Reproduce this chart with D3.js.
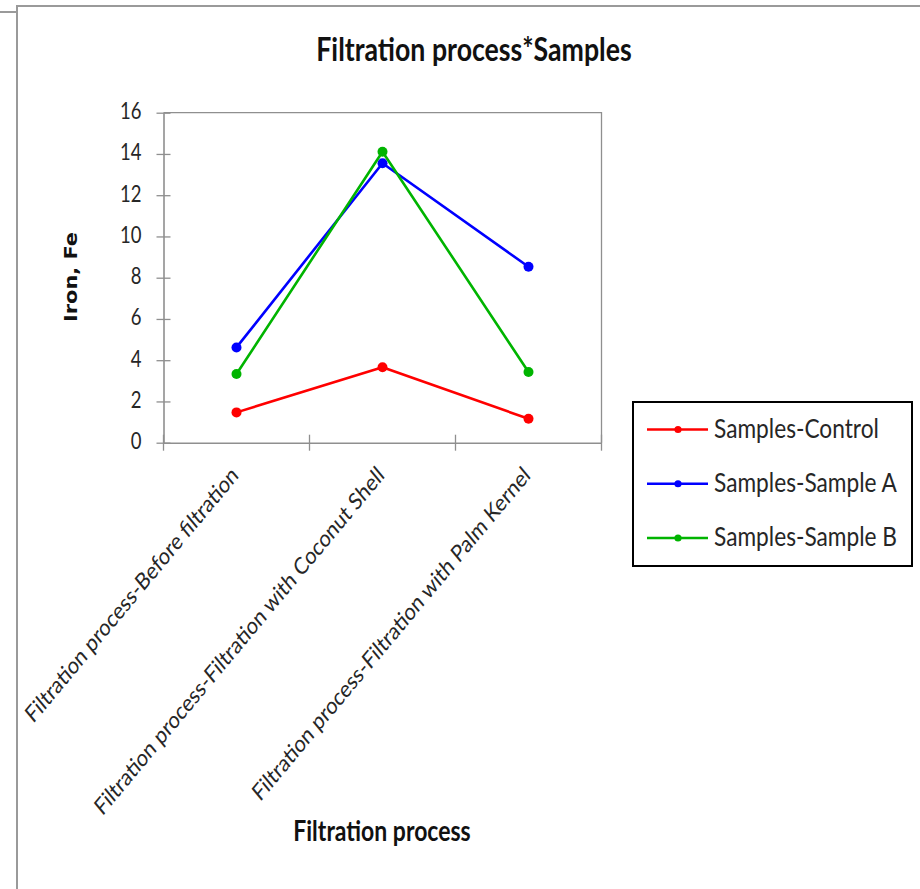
<!DOCTYPE html>
<html>
<head>
<meta charset="utf-8">
<script src="https://cdn.jsdelivr.net/npm/d3@7"></script>
<style>
  body { margin: 0; background: #fff; }
  svg { display: block; }
</style>
</head>
<body>
<svg id="chart" width="920" height="889"></svg>
<script>
// ---- data ----
const categories = [
  "Filtration process-Before filtration",
  "Filtration process-Filtration with Coconut Shell",
  "Filtration process-Filtration with Palm Kernel"
];
const seriesNames = ["Samples-Control", "Samples-Sample A", "Samples-Sample B"];
const controlValues = [1.47, 3.66, 1.16];
const sampleAValues = [4.62, 13.55, 8.53];
const sampleBValues = [3.33, 14.11, 3.43];
const yTickValues = [0, 2, 4, 6, 8, 10, 12, 14, 16];
const seriesColors = ["#ff0000", "#0000ff", "#00b400"];

const titleText = "Filtration process*Samples";
const xTitleText = "Filtration process";
const yTitleText = "Iron, Fe";

// ---- layout ----
const svg = d3.select("#chart");
const plot = { left: 163.5, right: 601.5, top: 112.7, bottom: 442.7 };
const stretch = 1.2;             // glyphs are drawn slightly taller than wide
const sans = "Lato, 'Open Sans', sans-serif";
const axisGrey = "#8f8f8f";
const textDark = "#262626";

const x = d3.scaleBand().domain(categories).range([plot.left, plot.right]);
const y = d3.scaleLinear().domain([0, 16]).range([plot.bottom, plot.top]);
const cx = d => x(d) + x.bandwidth() / 2;

// place a text element at (px, py), optionally rotated, with the vertical stretch
function label(g, str, px, py, opts) {
  const o = Object.assign({ size: 16, weight: "normal", anchor: "start", rotate: 0, family: sans, fill: textDark }, opts);
  return g.append("text")
    .attr("transform", `translate(${px},${py}) scale(1,${stretch}) rotate(${o.rotate})`)
    .attr("text-anchor", o.anchor)
    .attr("font-family", o.family)
    .attr("font-size", o.size)
    .attr("font-weight", o.weight)
    .attr("fill", o.fill)
    .text(str);
}

// ---- outer frame ----
const frame = svg.append("g").attr("stroke", "#9a9a9a").attr("stroke-width", 2).attr("fill", "none");
frame.append("path").attr("d", "M0,12H17V889");
frame.append("path").attr("d", "M17,889V6H920");

// ---- plot border (top and right) ----
svg.append("path")
  .attr("d", `M${plot.left},${plot.top}H${plot.right}V${plot.bottom}`)
  .attr("fill", "none").attr("stroke", axisGrey).attr("stroke-width", 1.3);

// ---- y axis ----
const yAxis = svg.append("g")
  .attr("transform", `translate(${plot.left},0)`)
  .call(d3.axisLeft(y).tickValues(yTickValues).tickSize(0).tickFormat(""));
yAxis.select(".domain").attr("stroke", axisGrey).attr("stroke-width", 1.6);
yAxis.selectAll(".tick").append("line")
  .attr("x1", -7).attr("x2", 7)
  .attr("stroke", axisGrey).attr("stroke-width", 1.3);
yTickValues.forEach(v => {
  label(svg, String(v), plot.left - 22, y(v) + 6.5, { size: 18.5, anchor: "end" });
});

// ---- x axis ----
const xAxis = svg.append("g")
  .attr("transform", `translate(0,${plot.bottom})`)
  .call(d3.axisBottom(x).tickSize(0).tickFormat(""));
xAxis.select(".domain").attr("stroke", axisGrey).attr("stroke-width", 1.6);
xAxis.selectAll(".tick").remove();
const boundaries = [plot.left].concat(categories.slice(1).map(c => x(c))).concat([plot.right]);
xAxis.selectAll("line.cross").data(boundaries).join("line")
  .attr("class", "cross")
  .attr("x1", d => d).attr("x2", d => d)
  .attr("y1", -8).attr("y2", 8)
  .attr("stroke", axisGrey).attr("stroke-width", 1.3);

categories.forEach(c => {
  label(svg, c, cx(c) + 3, plot.bottom + 34, { size: 19.6, anchor: "end", rotate: -45 });
});

// ---- series ----
const seriesValues = [controlValues, sampleAValues, sampleBValues];
const line = d3.line().x(d => cx(d.cat)).y(d => y(d.v));
seriesValues.forEach((vals, i) => {
  const pts = vals.map((v, j) => ({ cat: categories[j], v }));
  const g = svg.append("g");
  g.append("path").datum(pts)
    .attr("d", line)
    .attr("fill", "none")
    .attr("stroke", seriesColors[i])
    .attr("stroke-width", 2.6)
    .attr("stroke-linejoin", "round");
  g.selectAll("circle").data(pts).join("circle")
    .attr("cx", d => cx(d.cat)).attr("cy", d => y(d.v))
    .attr("r", 5).attr("fill", seriesColors[i]);
});

// ---- titles ----
label(svg, titleText, 474, 61, { size: 26.7, weight: "bold", anchor: "middle", fill: "#111" });
label(svg, xTitleText, 382, 841, { size: 23, weight: "bold", anchor: "middle", fill: "#111" });
label(svg, yTitleText, 77, 277, { size: 17.4, weight: "bold", anchor: "middle", rotate: -90,
  family: "'DejaVu Sans', Verdana, sans-serif", fill: "#111" });

// ---- legend ----
const legend = svg.append("g");
legend.append("rect")
  .attr("x", 633).attr("y", 402).attr("width", 279).attr("height", 164)
  .attr("fill", "#fff").attr("stroke", "#000").attr("stroke-width", 2);
const legendY = d3.scalePoint().domain(seriesNames).range([429.5, 538]);
seriesNames.forEach((name, i) => {
  const ly = legendY(name);
  legend.append("line")
    .attr("x1", 647).attr("x2", 708).attr("y1", ly).attr("y2", ly)
    .attr("stroke", seriesColors[i]).attr("stroke-width", 2.6);
  legend.append("circle").attr("cx", 678).attr("cy", ly).attr("r", 3.6).attr("fill", seriesColors[i]);
  label(legend, name, 714, ly + 8, { size: 22.7 });
});
</script>
</body>
</html>
